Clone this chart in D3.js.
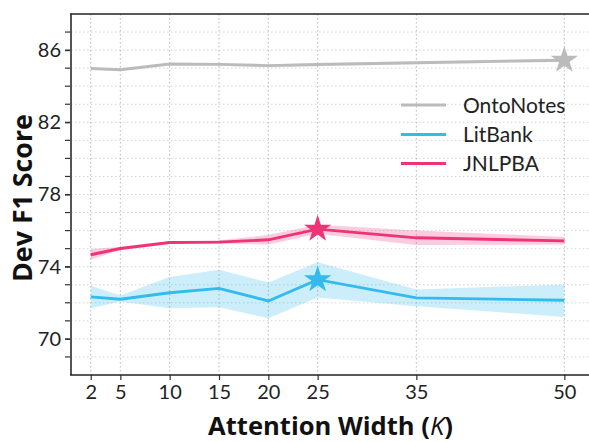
<!DOCTYPE html>
<html><head><meta charset="utf-8">
<script src="https://cdn.jsdelivr.net/npm/d3@7"></script>
<style>body{margin:0;background:#fff}svg{display:block}</style>
</head><body><svg id="c" width="589" height="442"></svg>
<script>
const widths = [2, 5, 10, 15, 20, 25, 35, 50];
const xTickLabels = ["2","5","10","15","20","25","35","50"];
const yTickLabels = [70, 74, 78, 82, 86];
const seriesNames = ["OntoNotes", "LitBank", "JNLPBA"];
const seriesColors = ["#BBBBBB", "#33BBEE", "#EE3377"];
const ontoMean = [84.98, 84.91, 85.23, 85.21, 85.14, 85.20, 85.30, 85.44];
const ontoLow  = [84.92, 84.85, 85.17, 85.15, 85.03, 85.10, 85.22, 85.34];
const ontoHigh = [85.04, 84.97, 85.29, 85.27, 85.22, 85.28, 85.38, 85.55];
const litMean  = [72.33, 72.20, 72.56, 72.80, 72.10, 73.28, 72.27, 72.14];
const litLow   = [71.70, 72.07, 71.70, 71.75, 71.15, 72.29, 71.81, 71.22];
const litHigh  = [72.95, 72.40, 73.43, 73.83, 73.13, 74.24, 72.73, 73.02];
const jnlMean  = [74.66, 75.01, 75.34, 75.36, 75.49, 76.08, 75.60, 75.43];
const jnlLow   = [74.39, 74.93, 75.27, 75.28, 75.23, 75.82, 75.20, 75.23];
const jnlHigh  = [74.98, 75.09, 75.41, 75.47, 75.75, 76.33, 76.00, 75.64];
const bestIndex = [7, 5, 5];

const svg = d3.select("#c");
const L = 71, R = 589, T = 14, B = 375;
const x = d3.scaleLinear().domain([0, 52.5]).range([L, R]);
const y = d3.scaleLinear().domain([68, 88]).range([B, T]);

// horizontal gridlines
const yAll = d3.range(69, 88, 1);
svg.append("g").selectAll("line").data(yAll).join("line")
  .attr("x1", L).attr("x2", R).attr("y1", d => y(d)).attr("y2", d => y(d))
  .attr("stroke", "#d4d4d4").attr("stroke-width", 1).attr("stroke-dasharray", "1.5,2.5");
// vertical gridlines
svg.append("g").selectAll("line").data(widths).join("line")
  .attr("x1", d => x(d)).attr("x2", d => x(d)).attr("y1", T).attr("y2", B)
  .attr("stroke", "#b8b8b8").attr("stroke-width", 1).attr("stroke-dasharray", "1.5,2.5");

const series = [
  {mean: ontoMean, low: ontoLow, high: ontoHigh},
  {mean: litMean, low: litLow, high: litHigh},
  {mean: jnlMean, low: jnlLow, high: jnlHigh}
];
const area = d3.area().x((d, i) => x(widths[i])).y0(d => y(d[0])).y1(d => y(d[1]));
const line = d3.line().x((d, i) => x(widths[i])).y(d => y(d));
const star = d3.symbol().type(d3.symbolStar).size(230);

series.forEach((s, k) => {
  svg.append("path").datum(s.low.map((v, i) => [v, s.high[i]]))
    .attr("d", area).attr("fill", seriesColors[k]).attr("fill-opacity", 0.25);
});
series.forEach((s, k) => {
  svg.append("path").datum(s.mean).attr("d", line).attr("fill", "none")
    .attr("stroke", seriesColors[k]).attr("stroke-width", 2.9);
  const b = bestIndex[k];
  svg.append("path").attr("d", star)
    .attr("transform", `translate(${x(widths[b])},${y(s.mean[b])})`)
    .attr("fill", seriesColors[k]);
});

// axes
const yAxis = d3.axisLeft(y).tickValues(yTickLabels).tickSize(6).tickPadding(4).tickFormat(d3.format("d"));
const gy = svg.append("g").attr("transform", `translate(${L},0)`);
gy.append("g").selectAll("line").data(d3.range(69, 88, 1)).join("line")
  .attr("x1", -6).attr("x2", 0).attr("y1", d => y(d)).attr("y2", d => y(d))
  .attr("stroke", "#333").attr("stroke-width", 1.2);
gy.call(yAxis);
gy.select(".domain").remove();
gy.selectAll(".tick line").attr("stroke", "#333").attr("stroke-width", 1.2);
gy.selectAll("text").attr("font-family", "Lato, sans-serif").attr("font-size", 20).attr("fill", "#222");

const xAxis = d3.axisBottom(x).tickValues(widths).tickFormat((d, i) => xTickLabels[i]).tickSize(5).tickPadding(5);
const gx = svg.append("g").attr("transform", `translate(0,${B})`).call(xAxis);
gx.select(".domain").remove();
gx.selectAll(".tick line").attr("stroke", "#333").attr("stroke-width", 1.2);
gx.selectAll("text").attr("font-family", "Lato, sans-serif").attr("font-size", 20).attr("fill", "#222");

// spines
svg.append("line").attr("x1", L).attr("x2", L).attr("y1", T).attr("y2", B).attr("stroke", "#555").attr("stroke-width", 2);
svg.append("line").attr("x1", L - 1).attr("x2", R).attr("y1", B).attr("y2", B).attr("stroke", "#222").attr("stroke-width", 1.5);
svg.append("line").attr("x1", L - 1).attr("x2", R).attr("y1", T).attr("y2", T).attr("stroke", "#222").attr("stroke-width", 1.5);

// axis labels
function fitWidth(sel, target) {
  const w = sel.node().getComputedTextLength();
  const fs = parseFloat(sel.attr("font-size"));
  if (w > 0) sel.attr("font-size", fs * target / w);
}
const xl = svg.append("text").attr("x", 330.5).attr("y", 435).attr("text-anchor", "middle")
  .attr("font-family", "'Open Sans', sans-serif").attr("font-weight", "bold").attr("font-size", 24).attr("fill", "#111");
xl.append("tspan").text("Attention Width (");
xl.append("tspan").attr("font-style", "italic").attr("font-weight", "normal").text("K");
xl.append("tspan").text(")");
fitWidth(xl, 245);
const yl = svg.append("text").attr("transform", "translate(32,198) rotate(-90)").attr("text-anchor", "middle")
  .attr("font-family", "'Open Sans', sans-serif").attr("font-weight", "bold").attr("font-size", 28).attr("fill", "#111")
  .text("Dev F1 Score");
fitWidth(yl, 168);

// legend
const legY = [105, 134.5, 163.5];
seriesNames.forEach((n, k) => {
  svg.append("line").attr("x1", 401).attr("x2", 446).attr("y1", legY[k]).attr("y2", legY[k])
    .attr("stroke", seriesColors[k]).attr("stroke-width", 3);
  svg.append("text").attr("x", 463).attr("y", legY[k] + 7.5).attr("font-family", "Lato, sans-serif")
    .attr("font-size", 21).attr("fill", "#222").text(n);
});
</script></body></html>
